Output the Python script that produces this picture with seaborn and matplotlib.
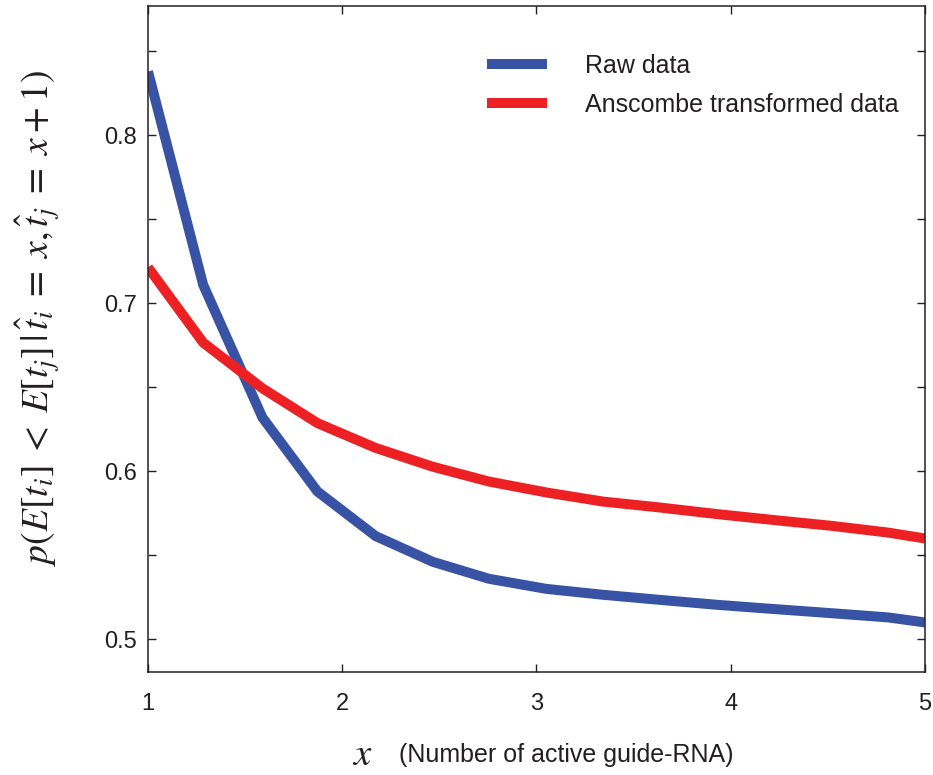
import numpy as np
import pandas as pd
import matplotlib
matplotlib.use("Agg")
import matplotlib.pyplot as plt
import seaborn as sns

# ---- data ----
x_vals = [1.0, 1.284, 1.589, 1.872, 2.172, 2.466, 2.755, 3.05, 3.34, 3.63, 3.93, 4.22, 4.52, 4.81, 5.0]
raw_data = [0.838, 0.711, 0.632, 0.588, 0.5614, 0.5461, 0.536, 0.530, 0.5265, 0.5235, 0.5205, 0.518, 0.5155, 0.513, 0.5100]
anscombe_data = [0.7214, 0.6766, 0.6494, 0.6287, 0.6139, 0.6027, 0.5939, 0.5874, 0.582, 0.5785, 0.5745, 0.571, 0.5675, 0.5635, 0.560]
series_names = ["Raw data", "Anscombe transformed data"]
series_colors = ["#3953A4", "#ED2024"]
x_ticks = [1, 2, 3, 4, 5]
x_tick_labels = ["1", "2", "3", "4", "5"]
y_ticks = [0.5, 0.55, 0.6, 0.65, 0.7, 0.75, 0.8, 0.85]
y_tick_labels = ["0.5", "", "0.6", "", "0.7", "", "0.8", ""]

df = pd.DataFrame({
    "x": x_vals * 2,
    "y": raw_data + anscombe_data,
    "series": [series_names[0]] * len(x_vals) + [series_names[1]] * len(x_vals),
})

sns.set_theme(style="ticks")
plt.rcParams["font.family"] = ["Liberation Sans", "DejaVu Sans"]
plt.rcParams["mathtext.fontset"] = "stix"
plt.rcParams["axes.edgecolor"] = "#231F20"

fig = plt.figure(figsize=(9.33, 7.75), dpi=100)
ax = fig.add_axes([148 / 933, 1 - 672 / 775, 777 / 933, 666 / 775])

sns.lineplot(data=df, x="x", y="y", hue="series", hue_order=series_names,
             palette=series_colors, linewidth=7.2, ax=ax, legend=True,
             solid_joinstyle="miter", solid_capstyle="butt")

ax.set_xlim(1, 5)
ax.set_ylim(0.4805, 0.877)
ax.set_xticks(x_ticks)
ax.set_xticklabels(x_tick_labels)
ax.set_yticks(y_ticks)
ax.set_yticklabels(y_tick_labels)
for s in ax.spines.values():
    s.set_visible(True)
    s.set_linewidth(1.1)
ax.tick_params(axis="both", direction="in", length=5.5, width=1.0, colors="#231F20",
               labelsize=17, top=True, right=True, labelcolor="#231F20")
ax.tick_params(axis="x", pad=15)
ax.tick_params(axis="y", pad=8)

ax.set_xlabel("")
ax.set_ylabel(r"$p(E[t_i]\;<\;E[t_j]\,|\,\hat{t}_i\;=\;x, \hat{t}_j\;=\;x+1)$", fontsize=27,
              color="#231F20")
ax.yaxis.set_label_coords(-0.111, 0.5315)

ax.text(0.2754, -0.1246, r"$x$", transform=ax.transAxes, fontsize=28, ha="center", va="center",
        color="#231F20")
ax.text(0.538, -0.1246, "(Number of active guide-RNA)", transform=ax.transAxes, fontsize=18,
        ha="center", va="center", color="#231F20")

leg = ax.legend(loc="upper left", bbox_to_anchor=(0.4363, 0.928), frameon=False,
                fontsize=18, handlelength=2.4, handletextpad=1.5, labelspacing=0.6,
                borderpad=0, borderaxespad=0)
for line in leg.get_lines():
    line.set_linewidth(7.2)
for t in leg.get_texts():
    t.set_color("#231F20")

fig.savefig("out.png", dpi=100)
